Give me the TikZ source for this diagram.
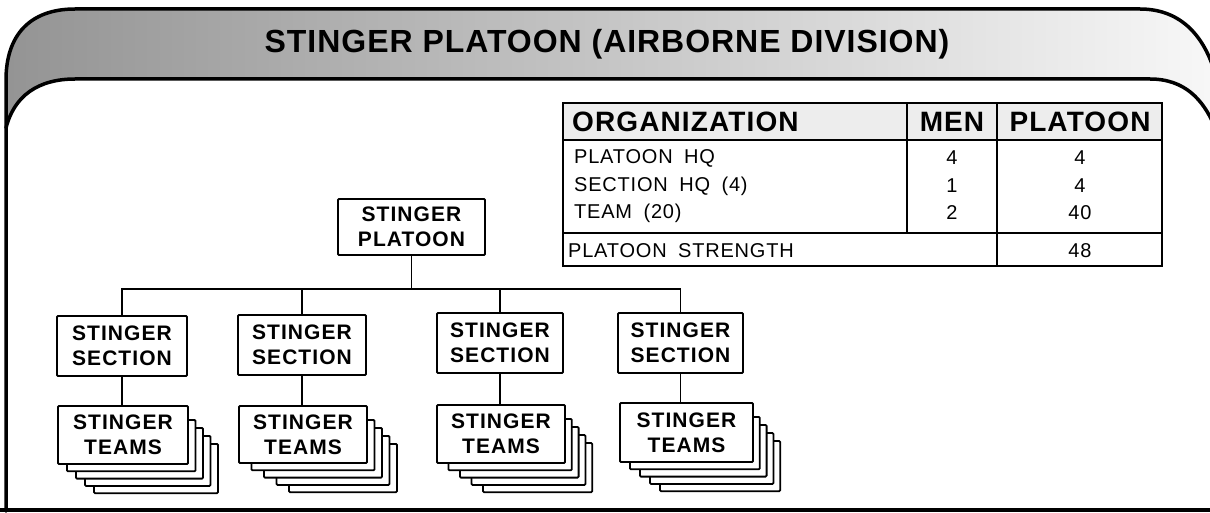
\documentclass[tikz,border=0pt]{standalone}
\usepackage{fontspec}
\setmainfont{Liberation Sans}
\newfontfamily\boxfont[LetterSpace=5]{Liberation Sans}
\newfontfamily\hdfont[LetterSpace=4]{Liberation Sans}
\newfontfamily\ttlfont[LetterSpace=3]{Liberation Sans}
\newfontfamily\rowfont[LetterSpace=4,WordSpace=1.8]{Liberation Sans}
\usetikzlibrary{calc}
\tikzset{
  frame/.style={line width=3.5pt, line cap=round, line join=round},
  orgbox/.style={draw, fill=white, line width=1.8pt, rounded corners=1pt, inner sep=0pt, align=center,
     font=\boxfont\bfseries\fontsize{21}{25}\selectfont},
  card/.style={draw, fill=white, line width=1.8pt, rounded corners=1pt},
  conn/.style={line width=1.6pt},
  tline/.style={line width=2.2pt},
  hd/.style={font=\hdfont\bfseries\fontsize{28}{30}\selectfont, inner sep=0pt},
  rowtxt/.style={font=\rowfont\fontsize{20}{22}\selectfont, inner sep=0pt},
  ttl/.style={font=\ttlfont\bfseries\fontsize{32}{36}\selectfont, inner sep=0pt}
}
\newcommand{\teamstack}[6]{%
  \foreach \k in {4,3,2,1}{%
    \draw[card] ({#1+#5*\k},{#2+6+8*\k}) rectangle ({#3+#6*\k},{#4+7.3*\k});
  }%
}
\begin{document}
\begin{tikzpicture}[x=1pt,y=-1pt]
\useasboundingbox (0,0) rectangle (1210,513);
\fill[white] (0,0) rectangle (1210,513);
% title band
\shade[left color=black!42, middle color=black!14, right color=black!3]
  (6,80) .. controls (6,35) and (30,9) .. (75,9) -- (1140,9)
  .. controls (1180,9) and (1203,35) .. (1214,70) -- (1214,125)
  .. controls (1203,100) and (1185,79) .. (1150,79) -- (75,79)
  .. controls (38,79) and (14,96) .. (6,128) -- cycle;
\draw[frame] (6,511) -- (6,80) .. controls (6,35) and (30,9) .. (75,9) -- (1140,9)
  .. controls (1180,9) and (1203,35) .. (1214,70);
\draw[frame] (6,128) .. controls (14,96) and (38,79) .. (75,79) -- (1150,79)
  .. controls (1185,79) and (1203,100) .. (1214,125);
\draw[frame] (0,510) -- (1212,510);
\node[ttl] (title) at (607,44) {STINGER PLATOON (AIRBORNE DIVISION)};

% table
\fill[black!7] (563,103) rectangle (1162,140);
\draw[tline] (563,103) rectangle (1162,266);
\draw[tline] (563,140) -- (1162,140);
\draw[tline] (563,233) -- (1162,233);
\draw[tline] (907,103) -- (907,233);
\draw[tline] (997,103) -- (997,266);
\node[hd, anchor=west] (horg) at (572,121.5) {ORGANIZATION};
\node[hd] (hmen) at (952,121.5) {MEN};
\node[hd] (hpl) at (1080,121.5) {PLATOON};
\node[rowtxt, anchor=west] (r1) at (574,158) {PLATOON HQ};
\node[rowtxt, anchor=west] (r2) at (574,186) {SECTION HQ (4)};
\node[rowtxt, anchor=west] (r3) at (574,213) {TEAM (20)};
\node[rowtxt, anchor=west] (r4) at (568,251) {PLATOON STRENGTH};
\node[rowtxt] (m1) at (952,158) {4};
\node[rowtxt] (m2) at (952,186) {1};
\node[rowtxt] (m3) at (952,213) {2};
\node[rowtxt] (p1) at (1080,158) {4};
\node[rowtxt] (p2) at (1080,186) {4};
\node[rowtxt] (p3) at (1080,213) {40};
\node[rowtxt] (p4) at (1080,251) {48};

% org chart
\node[orgbox, minimum width=147, minimum height=56] (plat) at (411.5,227) {STINGER\\PLATOON};
\node[orgbox, minimum width=130, minimum height=60] (sec1) at (122,346) {STINGER\\SECTION};
\node[orgbox, minimum width=128, minimum height=60] (sec2) at (302,345) {STINGER\\SECTION};
\node[orgbox, minimum width=126, minimum height=60] (sec3) at (500,343) {STINGER\\SECTION};
\node[orgbox, minimum width=125, minimum height=60] (sec4) at (680.5,343) {STINGER\\SECTION};

\teamstack{58}{406}{188}{464}{9}{7.5}
\teamstack{239}{406}{367}{463}{12.5}{7.5}
\teamstack{437}{405}{565}{463}{11.5}{6.8}
\teamstack{620}{403}{753}{462}{10}{6.8}
\node[orgbox, minimum width=130, minimum height=58] (t1) at (123,435) {STINGER\\TEAMS};
\node[orgbox, minimum width=128, minimum height=57] (t2) at (303,434.5) {STINGER\\TEAMS};
\node[orgbox, minimum width=128, minimum height=58] (t3) at (501,434) {STINGER\\TEAMS};
\node[orgbox, minimum width=133, minimum height=59] (t4) at (686.5,432.5) {STINGER\\TEAMS};

\coordinate (bus) at (411.5,289);
\draw[conn] (plat.south) -- (bus);
\draw[conn] (sec1.north) -- (sec1.north |- bus) -- (sec4.north |- bus) -- (sec4.north);
\draw[conn] (sec2.north) -- (sec2.north |- bus);
\draw[conn] (sec3.north) -- (sec3.north |- bus);
\draw[conn] (sec1.south) -- (sec1.south |- t1.north);
\draw[conn] (sec2.south) -- (sec2.south |- t2.north);
\draw[conn] (sec3.south) -- (sec3.south |- t3.north);
\draw[conn] (sec4.south) -- (sec4.south |- t4.north);
\end{tikzpicture}
\end{document}
